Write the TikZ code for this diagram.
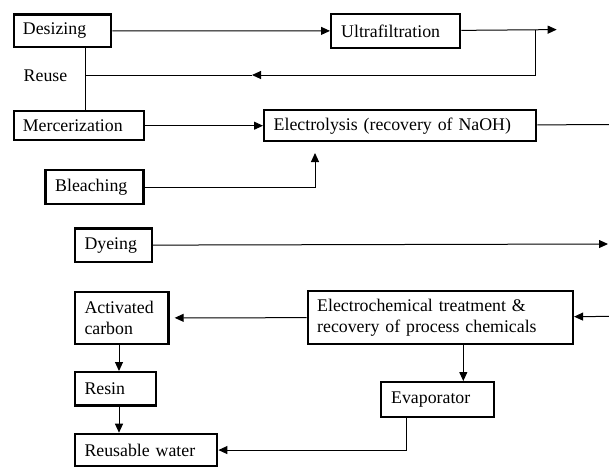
\documentclass[tikz,border=0pt]{standalone}
\usepackage{fontspec}
\setmainfont{Liberation Serif}
\usetikzlibrary{arrows.meta}
\begin{document}
\begin{tikzpicture}[x=1pt,y=-1pt,
  font=\fontsize{17.8}{20.5}\selectfont,
  box/.style={draw, line width=2.4pt, anchor=north west, align=left, inner ysep=0pt},
  conn/.style={line width=1pt},
  arr/.style={conn, -{Triangle[length=9pt,width=8pt]}}]
\useasboundingbox (0,0) rectangle (609,466);
% boxes
\node[box, inner xsep=9pt, text width=79.3pt, minimum height=32.7pt] (des) at (12.7,13.3) {Desizing};
\node[box, inner xsep=10pt, text width=109pt, minimum height=34pt] (ultra) at (330,12.7) {Ultrafiltration};
\node[box, inner xsep=9pt, text width=112pt, minimum height=29pt] (merc) at (12.7,110) {Mercerization};
\node[box, inner xsep=9.5pt, text width=253pt, minimum height=31pt] (elec) at (263,109) {Electrolysis (recovery of NaOH)};
\node[box, inner xsep=9.7pt, text width=78.6pt, minimum height=33.7pt] (bleach) at (44.3,169) {Bleaching};
\node[box, inner xsep=9.3pt, text width=58.1pt, minimum height=33.4pt] (dye) at (74,227.3) {Dyeing};
\node[box, inner xsep=9.3pt, text width=74.7pt, minimum height=52pt] (ac) at (74,290.7) {Activated\\carbon};
\node[box, inner xsep=9.3pt, text width=62.4pt, minimum height=33.3pt] (resin) at (74,371) {Resin};
\node[box, inner xsep=9.3pt, text width=123.4pt, minimum height=32.3pt] (rw) at (74,432.7) {Reusable water};
\node[box, inner xsep=9.3pt, text width=246.4pt, minimum height=52.7pt] (echem) at (306.7,290) {Electrochemical treatment \&\\recovery of process chemicals};
\node[box, inner xsep=10pt, text width=92.7pt, minimum height=34.7pt] (evap) at (380,381) {Evaporator};
\node[inner sep=0pt] (reuse) at (45.5,76) {Reuse};
% coordinates
\coordinate (ufout) at (556.7,29.6);
\coordinate (ufj) at (535.7,29.6);
\coordinate (ufd) at (535.7,75);
\coordinate (ufm) at (252,75);
\coordinate (reusej) at (85.3,75);
\coordinate (elout) at (609,124.5);
\coordinate (bltip) at (315,153);
\coordinate (dyout) at (608,244);
\coordinate (ecin) at (609,316.4);
\coordinate (colx) at (119,0);
\coordinate (evx) at (463.3,0);
\coordinate (evdown) at (406.7,449);
% connectors
\draw[arr] (des) -- (ultra);
\draw[arr] (ultra) -- (ufout);
\draw[conn] (ufj) -- (ufd);
\draw[arr] (ufd) -- (ufm);
\draw[conn] (ufm) -- (reusej);
\draw[conn] (des.south -| reusej) -- (merc.north -| reusej);
\draw[arr] (merc) -- (elec);
\draw[conn] (elec) -- (elout);
\draw[arr] (bleach.east) -| (bltip);
\draw[arr] (dye) -- (dyout);
\draw[arr] (ecin) -- (echem);
\draw[arr, shorten >=5pt] (echem) -- (ac);
\draw[arr] (ac.south -| colx) -- (resin.north -| colx);
\draw[arr] (resin.south -| colx) -- (rw.north -| colx);
\draw[arr] (echem.south -| evx) -- (evap.north -| evx);
\draw[arr] (evap.south -| evdown) |- (rw.east);
\end{tikzpicture}
\end{document}
